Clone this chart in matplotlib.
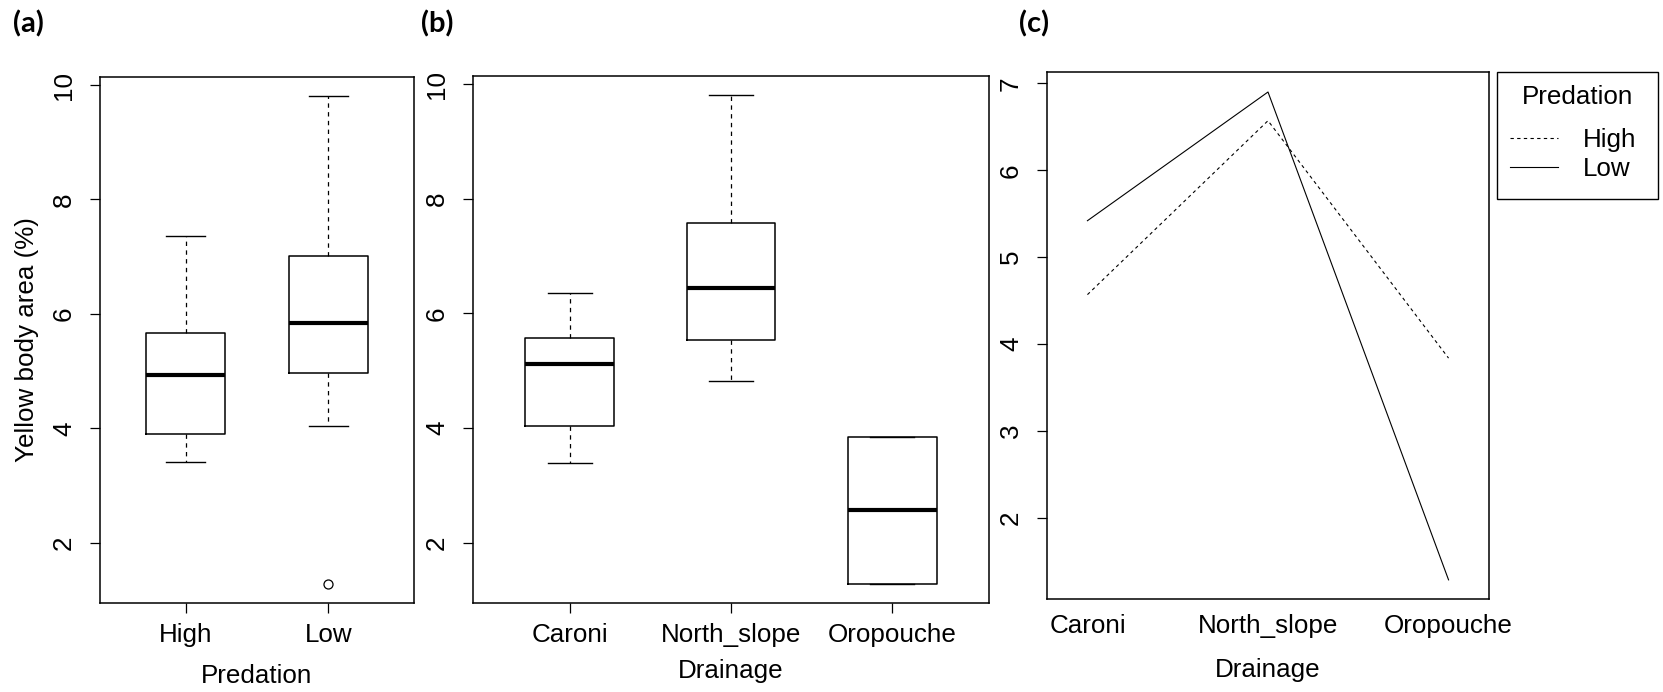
import matplotlib.pyplot as plt

FS = 18.7
plt.rcParams['font.family'] = ['Liberation Sans', 'DejaVu Sans']
plt.rcParams['font.size'] = FS

# five-number summaries: lower whisker, q1, median, q3, upper whisker
predation = ['High', 'Low']
high_box = [3.41, 3.90, 4.94, 5.67, 7.36]
low_box = [4.04, 4.97, 5.84, 7.02, 9.80]
predation_outliers = [[], [1.29]]

drainage = ['Caroni', 'North_slope', 'Oropouche']
caroni_box = [3.40, 4.04, 5.11, 5.57, 6.35]
north_box = [4.83, 5.54, 6.44, 7.58, 9.80]
oropouche_box = [1.29, 1.29, 2.565, 3.84, 3.84]

# group means per drainage for the interaction plot
high_means = [4.57, 6.57, 3.84]
low_means = [5.42, 6.90, 1.29]

W, H = 1663, 692


def px_axes(fig, left, top, right, bottom):
    return fig.add_axes([left / W, 1 - bottom / H, (right - left) / W, (bottom - top) / H])


def to_stats(labels, boxes, outliers):
    out = []
    for lab, b, fl in zip(labels, boxes, outliers):
        out.append(dict(label=lab, whislo=b[0], q1=b[1], med=b[2], q3=b[3],
                        whishi=b[4], fliers=fl))
    return out


def r_boxplot(ax, stats):
    n = len(stats)
    pos = list(range(1, n + 1))
    ax.bxp(stats, positions=pos, widths=0.55, capwidths=0.275,
           boxprops=dict(color='black', linewidth=1.1),
           medianprops=dict(color='black', linewidth=3.0, solid_capstyle='butt'),
           whiskerprops=dict(color='black', linewidth=0.9, linestyle=(0, (3.5, 3.5))),
           capprops=dict(color='black', linewidth=1.0),
           flierprops=dict(marker='o', markerfacecolor='white',
                           markeredgecolor='black', markersize=6.5, markeredgewidth=0.9))
    ax.set_xlim(0.4, n + 0.6)
    ax.set_ylim(0.95, 10.14)
    ax.set_yticks([2, 4, 6, 8, 10])
    ax.set_xticks(pos)
    ax.set_xticklabels([s['label'] for s in stats])


def style_axes(ax):
    for sp in ax.spines.values():
        sp.set_linewidth(1.1)
    ax.tick_params(axis='both', direction='out', length=7.2, width=0.9)
    ax.tick_params(axis='y', labelrotation=90, pad=10)
    ax.tick_params(axis='x', pad=7)
    for t in ax.get_yticklabels():
        t.set_va('center')


fig = plt.figure(figsize=(W / 100, H / 100), dpi=100)

# (a) predation boxplot
ax1 = px_axes(fig, 100, 77, 414, 603)
r_boxplot(ax1, to_stats(predation, [high_box, low_box], predation_outliers))
style_axes(ax1)
ax1.set_xlabel('Predation', va='center')
ax1.xaxis.set_label_coords(0.5, -0.139)
ax1.set_ylabel('Yellow body area (%)', va='center')
ax1.yaxis.set_label_coords(-0.232, 0.5)

# (b) drainage boxplot
ax2 = px_axes(fig, 473, 76, 989, 603)
r_boxplot(ax2, to_stats(drainage, [caroni_box, north_box, oropouche_box], [[], [], []]))
style_axes(ax2)
ax2.set_xlabel('Drainage', va='center')
ax2.xaxis.set_label_coords(0.5, -0.129)

# (c) interaction plot
ax3 = px_axes(fig, 1047, 72, 1489, 599)
x = [1, 2, 3]
ax3.plot(x, high_means, color='black', linewidth=0.8, linestyle=(0, (3, 3)), label='High')
ax3.plot(x, low_means, color='black', linewidth=0.8, label='Low')
ax3.set_xlim(0.776, 3.224)
ax3.set_ylim(1.07, 7.13)
ax3.set_yticks([2, 3, 4, 5, 6, 7])
ax3.set_xticks(x)
ax3.set_xticklabels(drainage)
style_axes(ax3)
ax3.tick_params(axis='x', length=0, pad=11)
ax3.set_xlabel('Drainage', va='center')
ax3.xaxis.set_label_coords(0.5, -0.1347)

leg = ax3.legend(title='Predation', loc='upper left',
                 bbox_to_anchor=(1497 / W, 1 - 72 / H - 126 / H, 161 / W, 126 / H),
                 bbox_transform=fig.transFigure, mode='expand', borderaxespad=0,
                 fancybox=False, edgecolor='black', framealpha=1,
                 handlelength=1.85, handletextpad=0.95, labelspacing=0.2,
                 borderpad=0.5, fontsize=FS, title_fontsize=FS)
leg.get_frame().set_linewidth(1.0)
# more room between the title and the entries, and around the entries
leg._legend_box.sep = 10.0
leg._legend_handle_box.pad = 3.6

for lab, xp in [('(a)', 13), ('(b)', 421), ('(c)', 1019)]:
    fig.text(xp / W, 1 - 24 / H, lab, family=['Lato', 'DejaVu Sans'],
             fontweight='bold', fontsize=21, ha='left', va='center')

fig.savefig('out.png', dpi=100)
